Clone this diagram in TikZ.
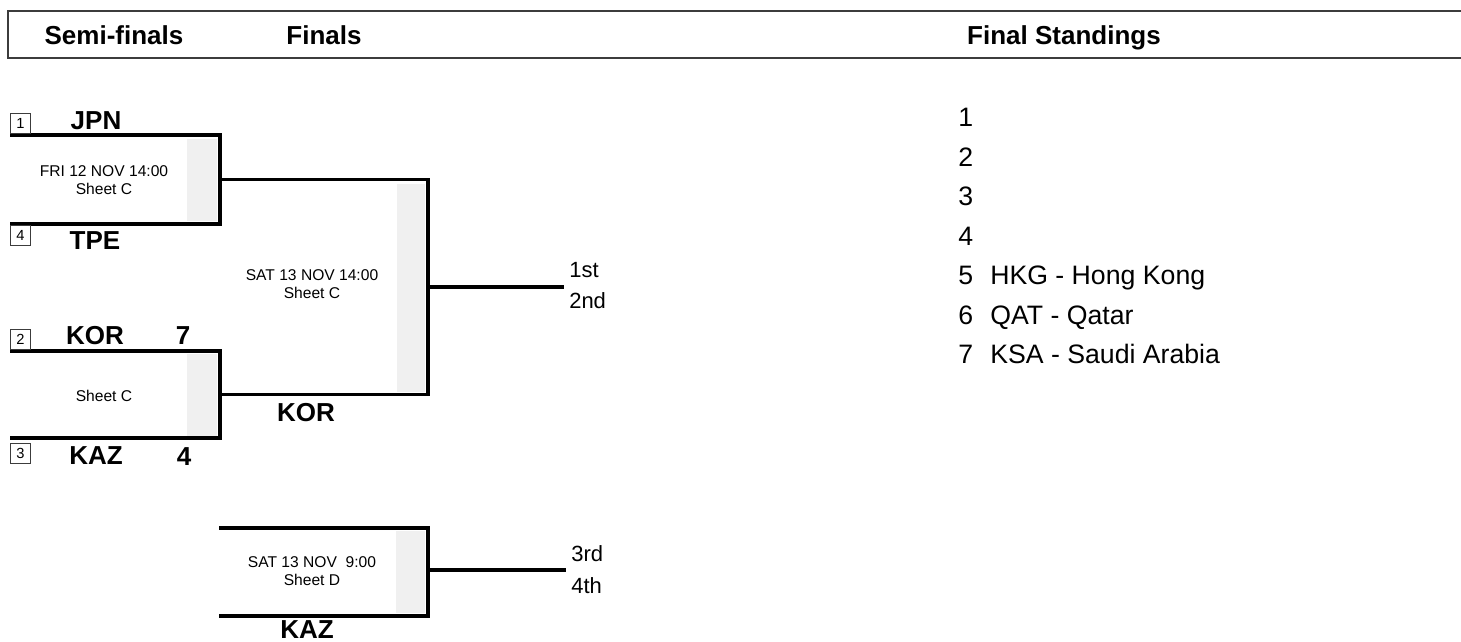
\documentclass[tikz,border=0pt]{standalone}
\usepackage{fontspec}
\setmainfont{Liberation Sans}
\usepackage{xcolor}
\usepackage{tikz}
\usetikzlibrary{positioning}

\definecolor{shadegray}{RGB}{240,240,240}
\definecolor{rulegray}{RGB}{60,60,60}

\begin{document}
\begin{tikzpicture}[x=0.75pt,y=-0.75pt,
  game/.style={line width=2.3pt},
  gamebox/.style 2 args={minimum width=#1, minimum height=#2, inner sep=0pt, outer sep=0pt},
  head/.style={font=\fontsize{19.5}{22}\selectfont\bfseries, text height=14pt, text depth=0pt},
  team/.style={font=\fontsize{19.5}{22}\selectfont\bfseries, text height=14pt, text depth=0pt},
  info/.style={font=\fontsize{11.7}{13.6}\selectfont, align=center},
  place/.style={font=\fontsize{16.5}{18}\selectfont, anchor=west, inner sep=0pt, text height=11.8pt, text depth=0pt},
  rank/.style={font=\fontsize{20}{22}\selectfont, anchor=west, inner sep=0pt, text height=14.3pt, text depth=0pt},
  seed/.style={draw=rulegray, line width=0.6pt, minimum width=15.5pt, minimum height=15pt, inner sep=0pt, font=\fontsize{11}{11}\selectfont}]
\useasboundingbox (0,0) rectangle (1461,642);

% header
\draw[rulegray, line width=1.1pt] (1461,11) -- (8,11) -- (8,58) -- (1461,58);
\node[head] (hsemi) at (114,35) {Semi-finals};
\node[head] (hfinal) at (324,35) {Finals};
\node[head] (hstand) at (1064,35) {Final Standings};

% game boxes
\node[gamebox={157.5pt}{66.75pt}] (sf1) at (115,179.5) {};
\node[gamebox={157.5pt}{65.25pt}] (sf2) at (115,394.5) {};
\node[gamebox={156pt}{161.25pt}] (fin) at (324,287) {};
\node[gamebox={156.75pt}{66pt}] (bronze) at (323.5,572) {};

\fill[shadegray] ([xshift=-24.75pt,yshift=-3pt]sf1.north east) rectangle ([xshift=-2.25pt,yshift=2.25pt]sf1.south east);
\fill[shadegray] ([xshift=-24.75pt,yshift=-2.25pt]sf2.north east) rectangle ([xshift=-2.25pt,yshift=1.5pt]sf2.south east);
\fill[shadegray] ([xshift=-23.25pt,yshift=-3pt]fin.north east) rectangle ([xshift=-2.25pt,yshift=2.25pt]fin.south east);
\fill[shadegray] ([xshift=-24pt,yshift=-2.25pt]bronze.north east) rectangle ([xshift=-2.25pt,yshift=2.25pt]bronze.south east);

\draw[game] (sf1.north west) -| (sf1.south east) -- (sf1.south west);
\draw[game] (sf2.north west) -| (sf2.south east) -- (sf2.south west);
\draw[game] (sf1.east) -- (fin.north west) -| (fin.south east) -- (fin.south west) -- (sf2.east);
\draw[game] (bronze.north west) -| (bronze.south east) -- (bronze.south west);

\coordinate (finout) at (564,287);
\coordinate (bronzeout) at (566,570);
\draw[game] (fin.east) -- (finout);
\draw[game] (bronze.east |- bronzeout) -- (bronzeout);

% game info
\node[info] (sf1info) at (104,180) {FRI 12 NOV 14:00\\Sheet C};
\node[info] (sf2info) at (104,396) {Sheet C};
\node[info] (fininfo) at (312,284) {SAT 13 NOV 14:00\\Sheet C};
\node[info] (bronzeinfo) at (312,571.5) {SAT 13 NOV~~9:00\\Sheet D};

% seeds and teams
\node[seed] (seed1) at (20.5,123) {1};
\node[seed] (seed4) at (20.5,235) {4};
\node[seed] (seed2) at (20.5,339) {2};
\node[seed] (seed3) at (20.5,453) {3};
\node[team] (jpn) at (96,120) {JPN};
\node[team] (tpe) at (95,240) {TPE};
\node[team] (kor) at (95,335) {KOR};
\node[team] (korscore) at (183,335) {7};
\node[team] (kaz) at (96,455) {KAZ};
\node[team] (kazscore) at (184,456) {4};
\node[team] (korfin) at (306,412) {KOR};
\node[team] (kazbronze) at (307,629) {KAZ};

% places
\node[place] (first) at (569,270) {1st};
\node[place] (second) at (569,301) {2nd};
\node[place] (third) at (571,554) {3rd};
\node[place] (fourth) at (571,586) {4th};

% final standings
\node[rank] (r1) at (958,117) {1};
\node[rank] (r2) at (958,156.5) {2};
\node[rank] (r3) at (958,196) {3};
\node[rank] (r4) at (958,235.5) {4};
\node[rank] (r5) at (958,275) {5};
\node[rank] (r6) at (958,314.5) {6};
\node[rank] (r7) at (958,354) {7};
\node[rank] (hkg) at (990,275) {HKG - Hong Kong};
\node[rank] (qat) at (990,314.5) {QAT - Qatar};
\node[rank] (ksa) at (990,354) {KSA - Saudi Arabia};
\end{tikzpicture}
\end{document}
